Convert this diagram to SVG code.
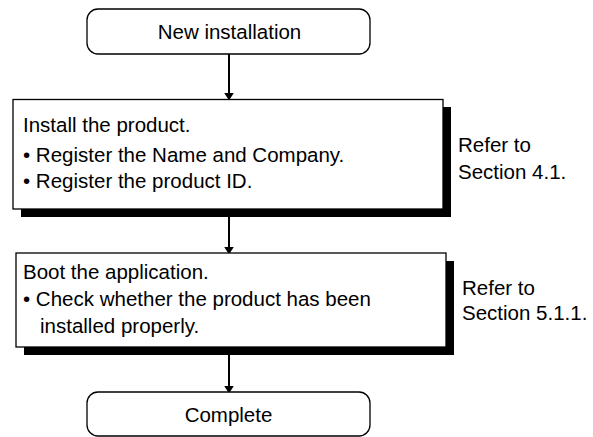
<svg xmlns="http://www.w3.org/2000/svg" width="593" height="437" viewBox="0 0 593 437">
<style>
text{font-family:"Liberation Sans",Arial,sans-serif;font-size:20.5px;fill:#000}
.pill{fill:#fff;stroke:#000;stroke-width:1.3}
.box{fill:#fff;stroke:#000;stroke-width:1.3}
.shadow{fill:#000}
.c{text-anchor:middle}
.conn{stroke:#000;stroke-width:2;fill:none}
</style>
<defs>
<marker id="ah" markerWidth="8" markerHeight="10" refX="8" refY="5" orient="auto" markerUnits="userSpaceOnUse" viewBox="0 0 10 10" preserveAspectRatio="none">
<path d="M0,0 L10,5 L0,10 Z" fill="#000"/>
</marker>
</defs>
<rect width="593" height="437" fill="#fff"/>
<g id="connectors">
<line class="conn" x1="229" y1="54" x2="229" y2="99" marker-end="url(#ah)"/>
<line class="conn" x1="229" y1="217" x2="229" y2="253" marker-end="url(#ah)"/>
<line class="conn" x1="229" y1="355" x2="229" y2="392" marker-end="url(#ah)"/>
</g>
<g id="start">
<rect class="pill" x="87" y="9" width="283" height="45" rx="11"/>
<text class="c" x="229.5" y="39">New installation</text>
</g>
<g id="install">
<rect class="shadow" x="21" y="107" width="430" height="110"/>
<rect class="box" x="13" y="99.5" width="430" height="109.5"/>
<text x="23" y="132">Install the product.</text>
<text x="23" y="162">• Register the Name and Company.</text>
<text x="23" y="188">• Register the product ID.</text>
</g>
<g id="ref1">
<text x="458" y="152">Refer to</text>
<text x="458" y="179">Section 4.1.</text>
</g>
<g id="boot">
<rect class="shadow" x="24" y="261" width="430" height="94"/>
<rect class="box" x="16" y="253" width="430" height="94"/>
<text x="23" y="279">Boot the application.</text>
<text x="23" y="306">• Check whether the product has been</text>
<text x="40" y="333">installed properly.</text>
</g>
<g id="ref2">
<text x="462" y="295">Refer to</text>
<text x="462" y="320">Section 5.1.1.</text>
</g>
<g id="end">
<rect class="pill" x="87" y="392" width="283" height="44" rx="11"/>
<text class="c" x="228.5" y="422">Complete</text>
</g>
</svg>
